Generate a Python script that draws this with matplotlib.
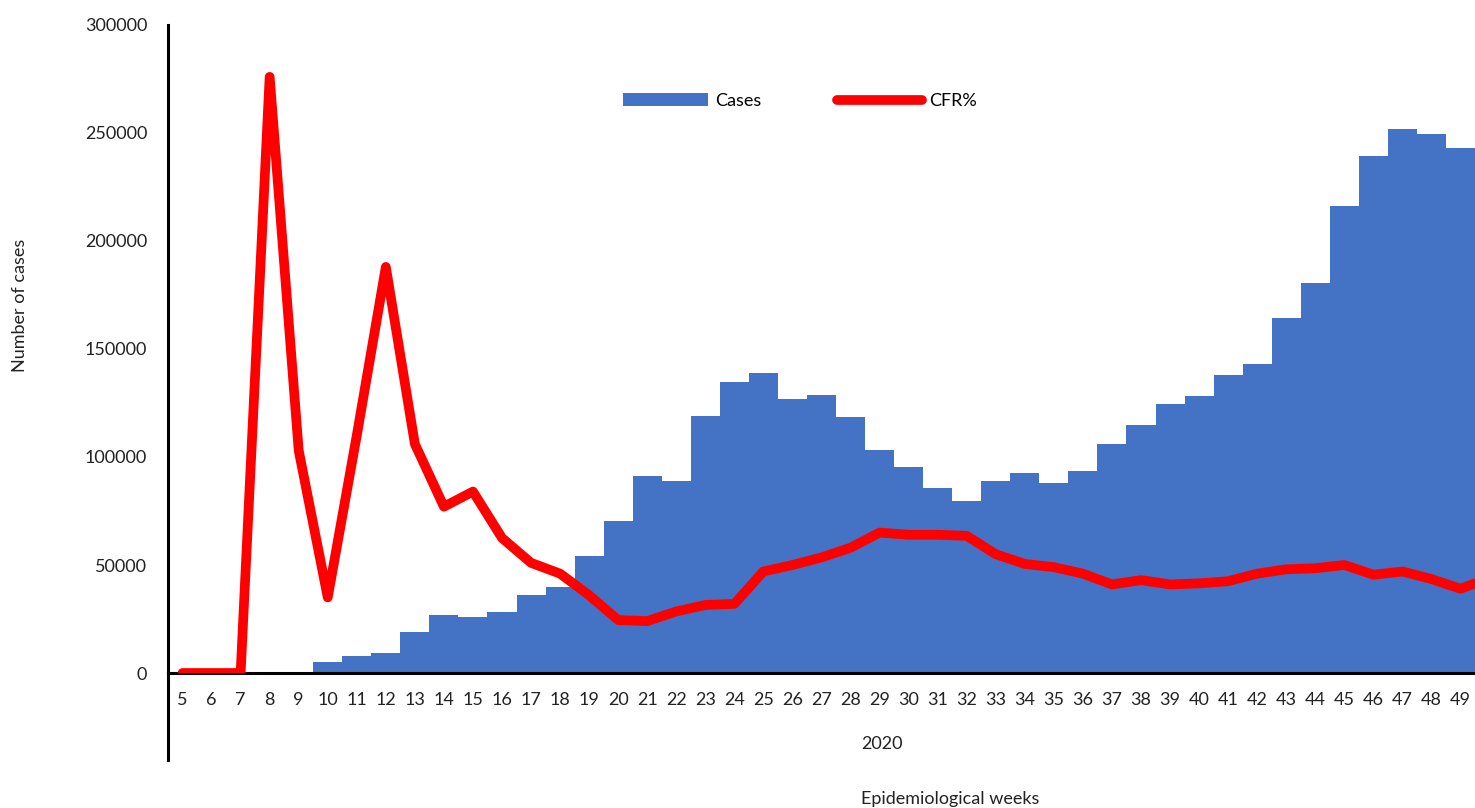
import matplotlib
matplotlib.use('Agg')
import matplotlib.pyplot as plt
from matplotlib.lines import Line2D

plt.rcParams['font.family'] = ['Lato', 'DejaVu Sans']

weeks = list(range(5, 50))
cases = [0, 0, 0, 0, 0, 5100, 7900, 9300, 19000, 26900,
         25900, 28200, 36100, 39800, 54200, 70400, 91200, 88900, 119000, 134700,
         138900, 126900, 128700, 118300, 103200, 95400, 85700, 79600, 88900, 92600,
         88000, 93500, 106000, 114800, 124500, 128200, 138000, 143100, 164400, 180600,
         216200, 239400, 251900, 249600, 243100]

# CFR% runs one week further, only its first rise is visible at the right edge
cfr_weeks = list(range(5, 51))
cfr = [0, 0, 0, 27.6, 10.3, 3.5, 11.0, 18.8, 10.6, 7.7,
       8.4, 6.25, 5.1, 4.6, 3.6, 2.45, 2.4, 2.85, 3.15, 3.2,
       4.7, 5.0, 5.35, 5.8, 6.5, 6.4, 6.4, 6.35, 5.5, 5.05,
       4.9, 4.6, 4.1, 4.3, 4.1, 4.15, 4.25, 4.6, 4.8, 4.85,
       5.0, 4.55, 4.7, 4.35, 3.9, 4.4]

fig = plt.figure(figsize=(14.75, 8.08), dpi=100)
ax = fig.add_axes([168 / 1475, 1 - 673 / 808, 1 - 168 / 1475, 648 / 808])

bars = ax.bar(weeks, cases, width=1.0, color='#4472C4', linewidth=0, label='Cases')
ax.set_xlim(4.5, 49.5)
ax.set_ylim(0, 300000)
ax.set_yticks([0, 50000, 100000, 150000, 200000, 250000, 300000])
ax.set_xticks(weeks)
ax.tick_params(axis='both', length=0, labelsize=13, colors='#222222')
ax.tick_params(axis='y', pad=15)
ax.tick_params(axis='x', pad=14)

for s in ['top', 'right']:
    ax.spines[s].set_visible(False)
ax.spines['left'].set_linewidth(2.2)
ax.spines['bottom'].set_linewidth(2.2)

# left axis line continues below the category labels (Excel multi-level axis)
ext = Line2D([0, 0], [0, -87 / 648], transform=ax.transAxes, color='black',
             linewidth=2.2, clip_on=False)
ax.add_line(ext)

ax2 = ax.twinx()
line, = ax2.plot(cfr_weeks, cfr, color='#FF0000', linewidth=7,
                 solid_capstyle='round', solid_joinstyle='round', label='CFR%')
ax2.set_ylim(0, 30)
ax2.set_xlim(4.5, 49.5)
ax2.axis('off')

fig.legend([bars, line], ['Cases', 'CFR%'], loc='center',
           bbox_to_anchor=(800 / 1475, 1 - 101 / 808), ncol=2, frameon=False,
           fontsize=13, handlelength=4.7, handletextpad=0.4, columnspacing=4.2)

fig.text(20 / 1475, 1 - 305 / 808, 'Number of cases', rotation=90,
         ha='center', va='center', fontsize=13, color='#222222')
fig.text(882 / 1475, 1 - 744 / 808, '2020', ha='center', va='center',
         fontsize=13, color='#222222')
fig.text(950 / 1475, 1 - 799 / 808, 'Epidemiological weeks', ha='center',
         va='center', fontsize=13, color='#222222')

fig.savefig('out.png', dpi=100)
